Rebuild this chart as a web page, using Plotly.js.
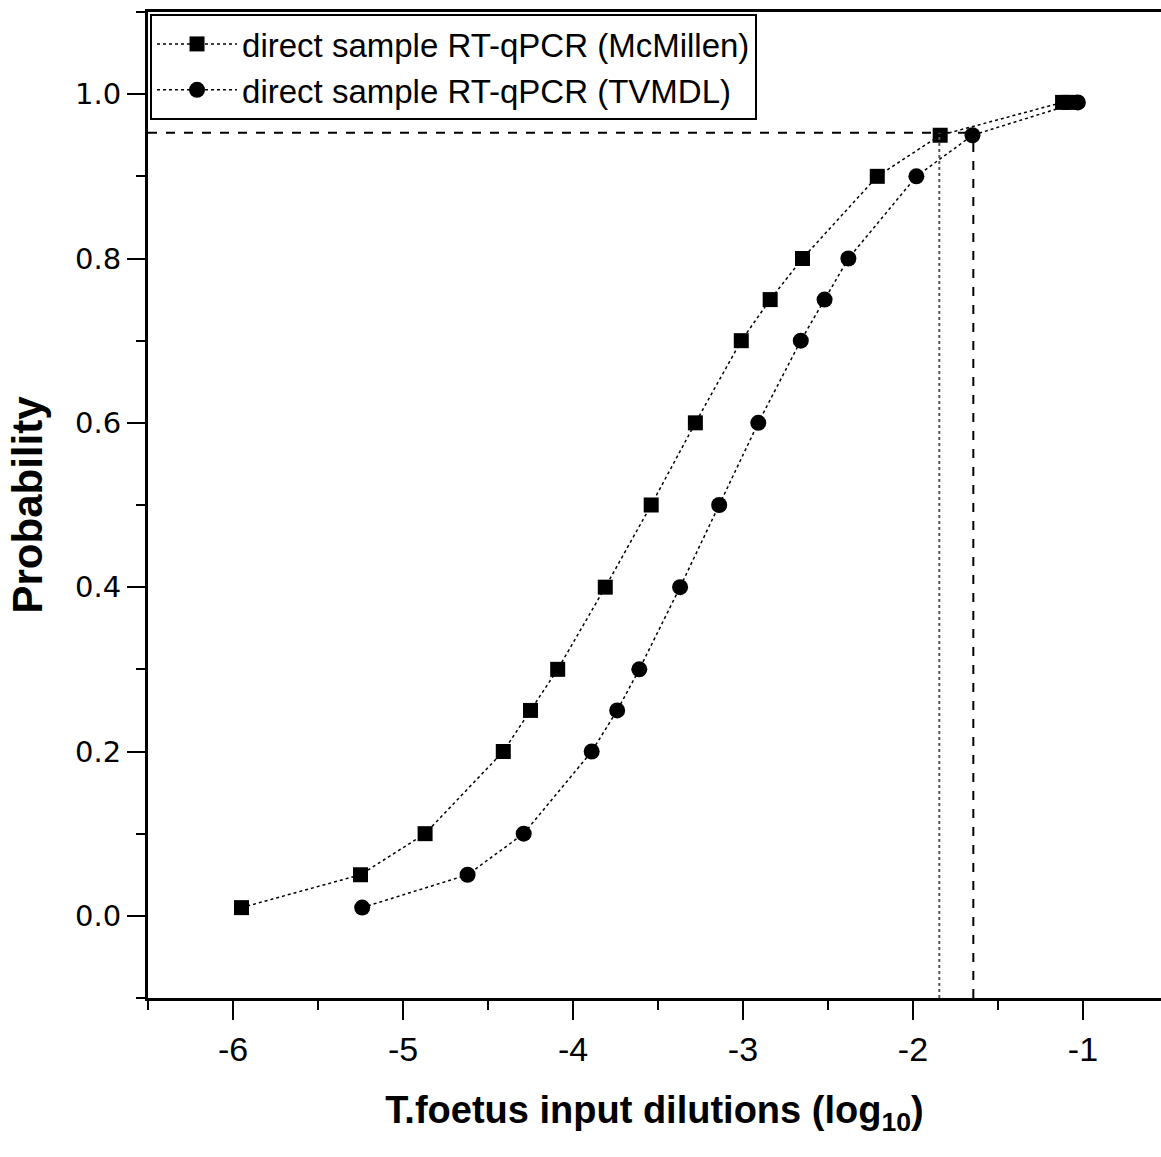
<!DOCTYPE html>
<html>
<head>
<meta charset="utf-8">
<script src="https://cdn.plot.ly/plotly-3.0.1.min.js"></script>
<style>html,body{margin:0;padding:0;background:#fff;}#chart{width:1161px;height:1157px;}</style>
</head>
<body>
<div id="chart"></div>
<script>
// Series: McMillen (squares)
const mcmX = [-5.95, -5.25, -4.87, -4.41, -4.25, -4.09, -3.81, -3.54, -3.28, -3.01, -2.84, -2.65, -2.21, -1.84, -1.12, -1.08];
const mcmY = [0.01, 0.05, 0.10, 0.20, 0.25, 0.30, 0.40, 0.50, 0.60, 0.70, 0.75, 0.80, 0.90, 0.95, 0.99, 0.99];
// Series: TVMDL (circles)
const tvmX = [-5.24, -4.62, -4.29, -3.89, -3.74, -3.61, -3.37, -3.14, -2.91, -2.66, -2.52, -2.38, -1.98, -1.65, -1.03];
const tvmY = [0.01, 0.05, 0.10, 0.20, 0.25, 0.30, 0.40, 0.50, 0.60, 0.70, 0.75, 0.80, 0.90, 0.95, 0.99];
// 95% detection reference
const refProb = 0.953;
const refMcm = -1.845;
const refTvm = -1.645;
const names = ['direct sample RT-qPCR (McMillen)', 'direct sample RT-qPCR (TVMDL)'];
const xTickVals = [-6, -5, -4, -3, -2, -1];
const yTickVals = [0.0, 0.2, 0.4, 0.6, 0.8, 1.0];

const traces = [
  {x: mcmX, y: mcmY, name: names[0], mode: 'lines+markers', type: 'scatter',
   line: {color: '#000', width: 1.5, dash: 'dot'},
   marker: {symbol: 'square', size: 15, color: '#000'}},
  {x: tvmX, y: tvmY, name: names[1], mode: 'lines+markers', type: 'scatter',
   line: {color: '#000', width: 1.5, dash: 'dot'},
   marker: {symbol: 'circle', size: 16, color: '#000'}}
];

const layout = {
  width: 1161, height: 1157,
  margin: {l: 148, r: 0, t: 12, b: 159},
  paper_bgcolor: '#fff', plot_bgcolor: '#fff',
  showlegend: true,
  legend: {x: 0.002, y: 0.998, xanchor: 'left', yanchor: 'top', bgcolor: '#fff',
           bordercolor: '#000', borderwidth: 2, itemwidth: 80,
           font: {family: 'Liberation Sans, Arial, sans-serif', size: 33, color: '#000'},
           tracegroupgap: 0},
  xaxis: {range: [-6.5, -0.541], showgrid: false, zeroline: false,
          showline: true, linecolor: '#000', linewidth: 3, mirror: true,
          ticks: 'outside', ticklen: 19, tickwidth: 2, tickcolor: '#000',
          tickvals: xTickVals, ticktext: xTickVals.map(String),
          minor: {dtick: 0.5, tick0: -6.5, ticks: 'outside', ticklen: 9, tickwidth: 2, tickcolor: '#000'},
          tickfont: {family: 'Liberation Sans, Arial, sans-serif', size: 34, color: '#000'},
          title: {text: '<b>T.foetus input dilutions (log<sub>10</sub>)</b>', standoff: 30,
                  font: {family: 'Liberation Sans, Arial, sans-serif', size: 38, color: '#000'}}},
  yaxis: {range: [-0.1, 1.1], showgrid: false, zeroline: false,
          showline: true, linecolor: '#000', linewidth: 3, mirror: false,
          ticks: 'outside', ticklen: 18, tickwidth: 2, tickcolor: '#000',
          tickvals: yTickVals, ticktext: yTickVals.map(v => v.toFixed(1)),
          minor: {dtick: 0.1, tick0: 0, ticks: 'outside', ticklen: 9, tickwidth: 2, tickcolor: '#000'},
          tickfont: {family: 'DejaVu Sans, sans-serif', size: 29, color: '#000'},
          title: {text: '<b>Probability</b>', standoff: 20,
                  font: {family: 'Liberation Sans, Arial, sans-serif', size: 42, color: '#000'}}},
  shapes: [
    {type: 'line', xref: 'x', yref: 'y', x0: -6.5, x1: refTvm, y0: refProb, y1: refProb,
     line: {color: '#000', width: 2, dash: 'dash'}},
    {type: 'line', xref: 'x', yref: 'y', x0: refTvm, x1: refTvm, y0: -0.1, y1: refProb,
     line: {color: '#000', width: 2, dash: 'dash'}},
    {type: 'line', xref: 'x', yref: 'y', x0: refMcm, x1: refMcm, y0: -0.1, y1: refProb,
     line: {color: '#555', width: 2, dash: 'dot'}}
  ]
};

Plotly.newPlot('chart', traces, layout, {displayModeBar: false, staticPlot: true});
</script>
</body>
</html>
